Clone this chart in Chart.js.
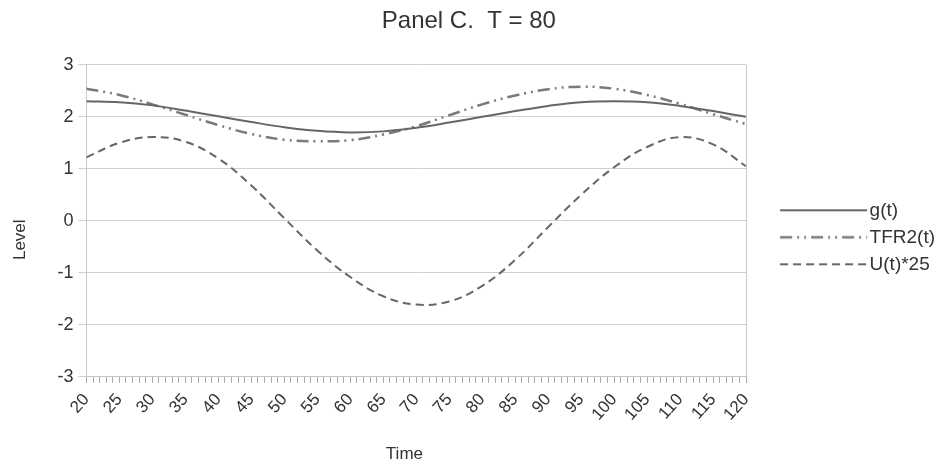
<!DOCTYPE html>
<html>
<head>
<meta charset="utf-8">
<script src="https://cdn.jsdelivr.net/npm/chart.js@4"></script>
<style>
  html, body { margin: 0; padding: 0; background: #fff; }
  #wrap { width: 943px; height: 465px; }
</style>
</head>
<body>
<div id="wrap"><canvas id="panelChart"></canvas></div>
<script>
const times = [20, 25, 30, 35, 40, 45, 50, 55, 60, 65, 70, 75, 80, 85, 90, 95, 100, 105, 110, 115, 120];
const gValues = [2.30, 2.28, 2.22, 2.12, 2.01, 1.90, 1.80, 1.73, 1.70, 1.72, 1.79, 1.89, 2.00, 2.11, 2.21, 2.28, 2.30, 2.28, 2.21, 2.11, 2.00];
const tfr2Values = [2.54, 2.42, 2.24, 2.04, 1.84, 1.67, 1.56, 1.53, 1.55, 1.66, 1.82, 2.03, 2.24, 2.41, 2.53, 2.58, 2.54, 2.42, 2.25, 2.05, 1.86];
const uValues = [1.22, 1.50, 1.61, 1.52, 1.20, 0.68, 0.05, -0.57, -1.08, -1.45, -1.61, -1.55, -1.25, -0.75, -0.12, 0.50, 1.03, 1.42, 1.61, 1.47, 1.05];
const timeTicks = [20, 120, 5];   // min, max, label step
const levelTicks = [-3, 3, 1];

const points = (vals) => times.map((t, i) => ({ x: t, y: vals[i] }));

// legend sample: box is BOX wide, the line starts LEAD px in and runs to just before the text
const BOX = 106;
const LEAD = 26;
function legendLine(color, width, dash) {
  const c = document.createElement('canvas');
  c.width = BOX + 16;
  c.height = 6;
  const ctx = c.getContext('2d');
  ctx.strokeStyle = color;
  ctx.lineWidth = width;
  ctx.setLineDash(dash);
  ctx.beginPath();
  ctx.moveTo(LEAD + 8, 3);
  ctx.lineTo(BOX + 15, 3);
  ctx.stroke();
  return c;
}

// right edge of the plot box
const frame = {
  id: 'frame',
  afterDatasetsDraw(chart) {
    const a = chart.chartArea, ctx = chart.ctx;
    ctx.save();
    ctx.strokeStyle = '#c8c8c8';
    ctx.lineWidth = 1;
    ctx.beginPath();
    ctx.moveTo(a.right + 0.5, a.top);
    ctx.lineTo(a.right + 0.5, a.bottom);
    ctx.stroke();
    ctx.restore();
  }
};

const font = "'Liberation Sans', Arial, sans-serif";

new Chart(document.getElementById('panelChart'), {
  type: 'line',
  data: {
    datasets: [
      {
        label: 'g(t)',
        data: points(gValues),
        borderColor: '#666',
        borderWidth: 2,
        pointRadius: 0,
        tension: 0.4
      }, {
        label: 'TFR2(t)',
        data: points(tfr2Values),
        borderColor: '#7a7a7a',
        borderWidth: 2.5,
        borderDash: [12, 5, 2, 5, 2, 5],
        pointRadius: 0,
        tension: 0.4
      }, {
        label: 'U(t)*25',
        data: points(uValues),
        borderColor: '#666',
        borderWidth: 2,
        borderDash: [8, 5],
        pointRadius: 0,
        tension: 0.4
      }
    ]
  },
  options: {
    responsive: true,
    maintainAspectRatio: false,
    animation: false,
    layout: { padding: { left: 6, right: -2, top: 6, bottom: 0 } },
    plugins: {
      title: {
        display: true,
        text: 'Panel C.  T = 80  ',
        color: '#333',
        font: { family: font, size: 24, weight: 'normal' },
        padding: { top: 1, bottom: 29 }
      },
      legend: {
        position: 'right',
        title: { display: true, text: ' ', font: { size: 3 }, padding: 0 },
        labels: {
          usePointStyle: true,
          pointStyleWidth: BOX,
          color: '#333',
          font: { family: font, size: 19 },
          padding: 8,
          generateLabels(chart) {
            return chart.data.datasets.map((ds, i) => ({
              text: ds.label,
              datasetIndex: i,
              strokeStyle: ds.borderColor,
              fillStyle: ds.borderColor,
              fontColor: '#333',
              lineWidth: 0,
              pointStyle: legendLine(ds.borderColor, ds.borderWidth, ds.borderDash || []),
              hidden: false
            }));
          }
        }
      },
      tooltip: { enabled: false }
    },
    scales: {
      x: {
        type: 'linear',
        min: timeTicks[0],
        max: timeTicks[1],
        title: {
          display: true,
          text: 'Time     ',
          color: '#333',
          font: { family: font, size: 17 },
          padding: { top: 13, bottom: 0 }
        },
        ticks: {
          stepSize: 1,
          autoSkip: false,
          minRotation: 48,
          maxRotation: 48,
          color: '#333',
          font: { family: font, size: 17 },
          padding: 7,
          callback: (v) => (v % timeTicks[2] === 0 ? String(v) : '')
        },
        grid: {
          drawOnChartArea: false,
          tickLength: 6,
          color: '#aaa'
        },
        border: { color: '#c8c8c8' }
      },
      y: {
        min: levelTicks[0],
        max: levelTicks[1],
        title: {
          display: true,
          text: 'Level        ',
          color: '#333',
          font: { family: font, size: 17 },
          padding: { bottom: 22 }
        },
        ticks: {
          stepSize: levelTicks[2],
          color: '#333',
          font: { family: font, size: 18 },
          padding: 5
        },
        grid: {
          color: '#d0d0d0',
          tickLength: 8
        },
        border: { color: '#c8c8c8' }
      }
    }
  },
  plugins: [frame]
});
</script>
</body>
</html>
